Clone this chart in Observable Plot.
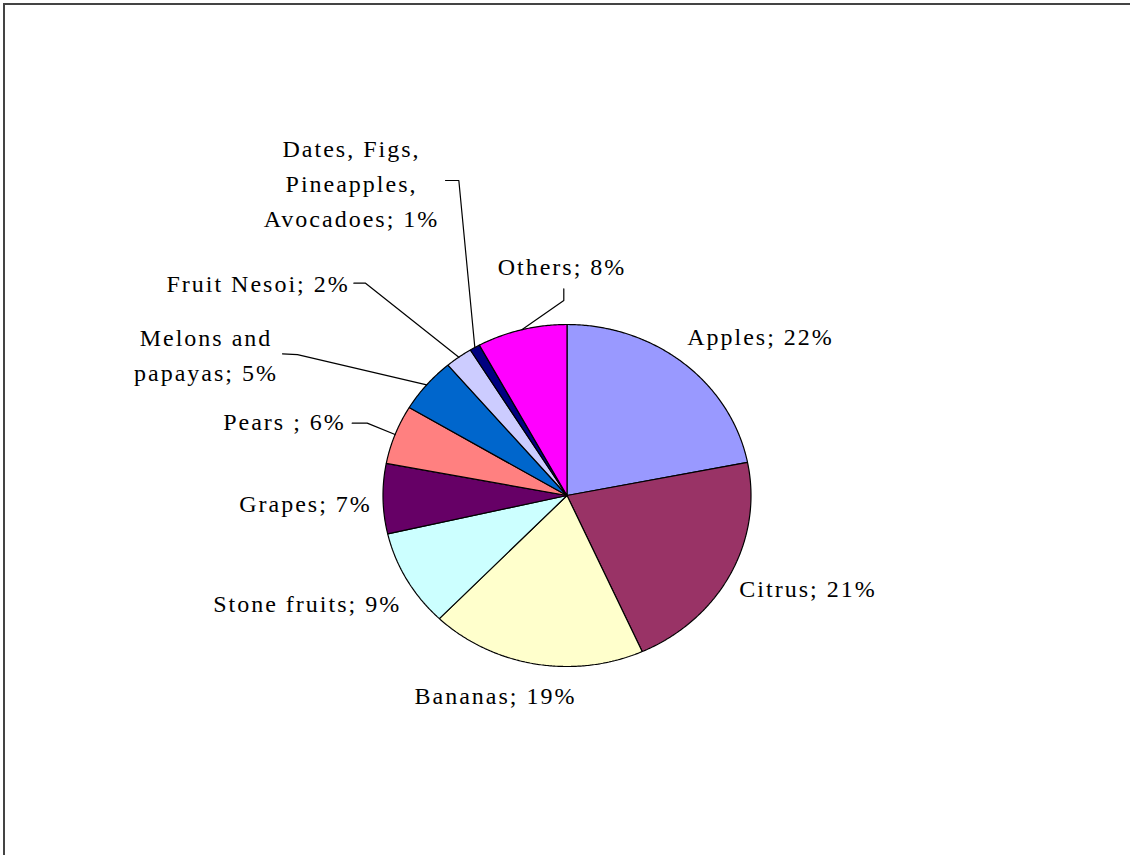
<!DOCTYPE html>
<html>
<head>
<meta charset="utf-8">
<script src="https://cdn.jsdelivr.net/npm/d3@7"></script>
<script src="https://cdn.jsdelivr.net/npm/@observablehq/plot@0.6"></script>
<style>
  html, body { margin: 0; padding: 0; background: #fff; overflow: hidden; width: 1130px; height: 855px; }
  #wrap { position: relative; width: 1130px; height: 855px; overflow: hidden; }
  #wrap svg { display: block; }
  .bar { position: absolute; background: #444; pointer-events: none; }
  #topbar { left: 3px; top: 3px; width: 1127px; height: 2px; }
  #leftbar { left: 3px; top: 3px; width: 2px; height: 852px; }
  #rightmask { position: absolute; left: 1118px; top: 5px; width: 12px; height: 850px; background: #fff; }
</style>
</head>
<body>
<div id="wrap"><div id="rightmask"></div><div id="topbar" class="bar"></div><div id="leftbar" class="bar"></div></div>
<script>
// ---- data ----
const categories = ["Apples", "Citrus", "Bananas", "Stone fruits", "Grapes", "Pears ",
  "Melons and papayas", "Fruit Nesoi", "Dates, Figs, Pineapples, Avocadoes", "Others"];
const shares = [21.9, 21.4, 18.9, 9.2, 6.6, 5.6, 5.2, 2.4, 0.9, 7.9];
const sliceColors = ["#9999FF", "#993366", "#FFFFCC", "#CCFFFF", "#660066", "#FF8080",
  "#0066CC", "#CCCCFF", "#000080", "#FF00FF"];
const labelTexts = ["Apples; 22%", "Citrus; 21%", "Bananas; 19%", "Stone fruits; 9%", "Grapes; 7%",
  "Pears ; 6%", "Melons and\npapayas; 5%", "Fruit Nesoi; 2%", "Dates, Figs,\nPineapples,\nAvocadoes; 1%", "Others; 8%"];

// ---- layout (pixels) ----
const W = 1130, H = 855;
const cx = 566.5, cy = 495, rx = 184, ry = 171;
// label centre offsets from the slice's mid-angle rim point
const labelOffsets = [[76.7, -29.9], [77.6, 11.9], [-39.9, 28.5], [-99.7, 20.7], [-77.5, 1.8],
  [-110.6, -16.1], [-220.7, -32.8], [-200.8, -76.2], [-123.3, -166.7], [40.2, -66.2]];
// leader lines: [elbow offset, end offset] from rim point (null = none)
const leaderOffsets = [null, null, null, null, null,
  [[-27.9, -11.4], [-42.9, -11.4]],
  [[-129.2, -30.3], [-144.2, -31]],
  [[-93.3, -74], [-105, -74]],
  [[-16, -167], [-29.3, -167]],
  [[42, -29.2], [42, -40.9]]];

const records = categories.map((name, i) => ({name, value: shares[i], i}));
const arcs = d3.pie().sort(null).value(d => d.value)(records);

// slice polygons in data units (unit circle, y up)
const slicePts = [];
arcs.forEach(a => {
  const name = a.data.name;
  slicePts.push({name, x: 0, y: 0});
  const n = Math.max(2, Math.ceil((a.endAngle - a.startAngle) / (Math.PI / 360)));
  for (let k = 0; k <= n; ++k) {
    const t = a.startAngle + (a.endAngle - a.startAngle) * k / n;
    slicePts.push({name, x: Math.sin(t), y: Math.cos(t)});
  }
});

const px = (d) => d / rx, py = (d) => -d / ry;
const labels = [], leaders = [];
arcs.forEach((a, i) => {
  const m = (a.startAngle + a.endAngle) / 2;
  const rxp = Math.sin(m), ryp = Math.cos(m);
  const o = labelOffsets[i];
  labels.push({text: labelTexts[i], x: rxp + px(o[0]), y: ryp + py(o[1])});
  const L = leaderOffsets[i];
  if (L) {
    const name = a.data.name;
    leaders.push({name, x: rxp, y: ryp});
    leaders.push({name, x: rxp + px(L[0][0]), y: ryp + py(L[0][1])});
    leaders.push({name, x: rxp + px(L[1][0]), y: ryp + py(L[1][1])});
  }
});

const chart = Plot.plot({
  width: W, height: H,
  margin: 0,
  x: {axis: null, domain: [(0 - cx) / rx, (W - cx) / rx]},
  y: {axis: null, domain: [(cy - H) / ry, cy / ry]},
  color: {type: "ordinal", domain: categories, range: sliceColors},
  style: {fontFamily: "'Liberation Serif', 'Times New Roman', serif", letterSpacing: "2px", background: "white"},
  marks: [
    Plot.line(slicePts, {x: "x", y: "y", z: "name", fill: "name", stroke: "black",
      strokeWidth: 1.2, curve: "linear-closed", strokeLinejoin: "miter"}),
    Plot.line(leaders, {x: "x", y: "y", z: "name", stroke: "black", strokeWidth: 1.2}),
    Plot.text(labels, {x: "x", y: "y", text: "text", fontSize: 24, lineHeight: 1.46, fill: "black"})
  ]
});
document.getElementById("wrap").insertBefore(chart, document.getElementById("rightmask"));
</script>
</body>
</html>
